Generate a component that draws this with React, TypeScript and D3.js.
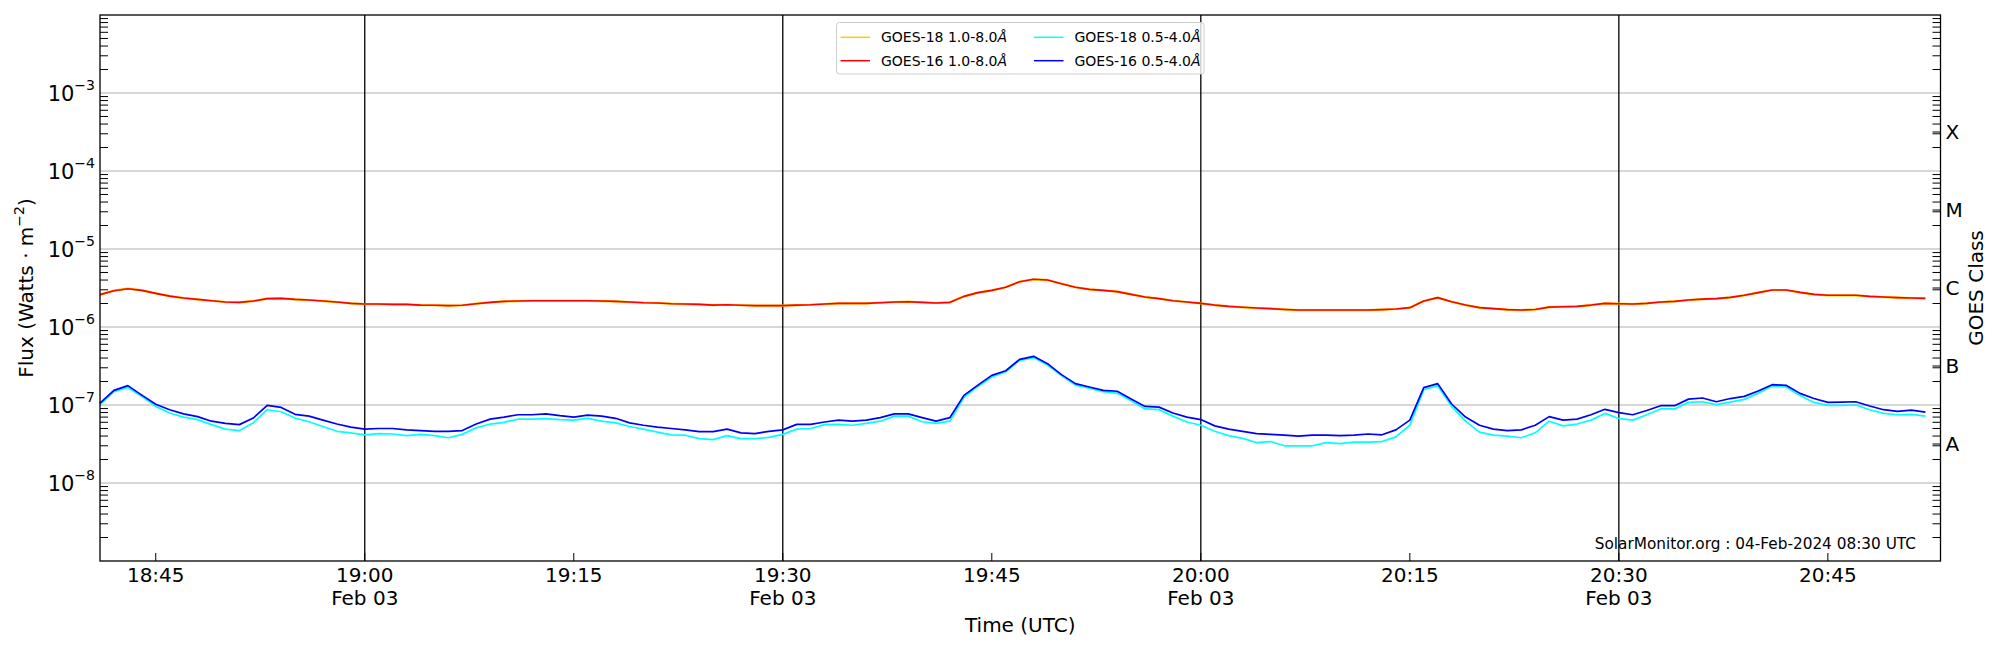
import * as d3 from "d3";

// GOES XRS, 1-minute averages, Feb 03 2024 18:41 - 20:52 UTC
const START = new Date(Date.UTC(2024, 1, 3, 18, 41, 0));
const END = new Date(Date.UTC(2024, 1, 3, 20, 53, 0));
const X_END = new Date(Date.UTC(2024, 1, 3, 20, 53, 5));
const times = d3.utcMinute.range(START, END);

// GOES-16 1.0-8.0 A (W m^-2)
const goes16Long = [
  2.6e-6, 2.92e-6, 3.1e-6, 2.95e-6, 2.7e-6, 2.49e-6, 2.35e-6, 2.26e-6, 2.17e-6, 2.09e-6,
  2.07e-6, 2.15e-6, 2.31e-6, 2.33e-6, 2.26e-6, 2.22e-6, 2.15e-6, 2.09e-6, 2.01e-6, 1.97e-6,
  1.97e-6, 1.95e-6, 1.95e-6, 1.91e-6, 1.9e-6, 1.88e-6, 1.9e-6, 1.99e-6, 2.07e-6, 2.13e-6,
  2.15e-6, 2.17e-6, 2.17e-6, 2.17e-6, 2.17e-6, 2.17e-6, 2.15e-6, 2.13e-6, 2.09e-6, 2.05e-6,
  2.03e-6, 1.99e-6, 1.97e-6, 1.95e-6, 1.91e-6, 1.93e-6, 1.9e-6, 1.88e-6, 1.88e-6, 1.88e-6,
  1.91e-6, 1.93e-6, 1.97e-6, 2.01e-6, 2.01e-6, 2.01e-6, 2.05e-6, 2.09e-6, 2.11e-6, 2.07e-6,
  2.03e-6, 2.07e-6, 2.47e-6, 2.76e-6, 2.95e-6, 3.23e-6, 3.81e-6, 4.09e-6, 4.01e-6, 3.59e-6,
  3.23e-6, 3.04e-6, 2.95e-6, 2.84e-6, 2.62e-6, 2.42e-6, 2.31e-6, 2.17e-6, 2.09e-6, 2.01e-6,
  1.91e-6, 1.84e-6, 1.79e-6, 1.75e-6, 1.72e-6, 1.68e-6, 1.65e-6, 1.65e-6, 1.65e-6, 1.65e-6,
  1.65e-6, 1.65e-6, 1.67e-6, 1.7e-6, 1.77e-6, 2.15e-6, 2.38e-6, 2.11e-6, 1.91e-6, 1.77e-6,
  1.72e-6, 1.67e-6, 1.65e-6, 1.68e-6, 1.8e-6, 1.82e-6, 1.84e-6, 1.91e-6, 2.01e-6, 1.99e-6,
  1.97e-6, 2.01e-6, 2.09e-6, 2.13e-6, 2.22e-6, 2.28e-6, 2.31e-6, 2.4e-6, 2.55e-6, 2.76e-6,
  2.98e-6, 2.98e-6, 2.78e-6, 2.62e-6, 2.55e-6, 2.55e-6, 2.55e-6, 2.47e-6, 2.42e-6, 2.38e-6,
  2.35e-6, 2.33e-6,
];

// GOES-18 1.0-8.0 A sits right under the GOES-16 curve
const goes18Long = goes16Long;

// GOES-16 0.5-4.0 A
const goes16Short = [
  1.06e-7, 1.54e-7, 1.77e-7, 1.34e-7, 1.02e-7, 8.7e-8, 7.7e-8, 7.1e-8, 6.2e-8, 5.8e-8,
  5.6e-8, 6.8e-8, 9.9e-8, 9.3e-8, 7.6e-8, 7.2e-8, 6.4e-8, 5.7e-8, 5.2e-8, 4.9e-8,
  5.0e-8, 5.0e-8, 4.8e-8, 4.7e-8, 4.6e-8, 4.6e-8, 4.7e-8, 5.7e-8, 6.6e-8, 7.0e-8,
  7.5e-8, 7.5e-8, 7.7e-8, 7.3e-8, 7.0e-8, 7.4e-8, 7.2e-8, 6.75e-8, 5.9e-8, 5.5e-8,
  5.2e-8, 5.0e-8, 4.8e-8, 4.55e-8, 4.55e-8, 4.9e-8, 4.4e-8, 4.3e-8, 4.6e-8, 4.8e-8,
  5.65e-8, 5.65e-8, 6.05e-8, 6.4e-8, 6.2e-8, 6.4e-8, 6.9e-8, 7.7e-8, 7.7e-8, 6.9e-8,
  6.2e-8, 6.9e-8, 1.33e-7, 1.8e-7, 2.4e-7, 2.75e-7, 3.85e-7, 4.21e-7, 3.39e-7, 2.45e-7,
  1.88e-7, 1.7e-7, 1.54e-7, 1.5e-7, 1.19e-7, 9.6e-8, 9.4e-8, 7.9e-8, 7.0e-8, 6.5e-8,
  5.4e-8, 4.9e-8, 4.6e-8, 4.3e-8, 4.2e-8, 4.1e-8, 4.0e-8, 4.1e-8, 4.1e-8, 4.05e-8,
  4.1e-8, 4.25e-8, 4.15e-8, 4.8e-8, 6.4e-8, 1.67e-7, 1.88e-7, 1.03e-7, 7.0e-8, 5.5e-8,
  4.9e-8, 4.7e-8, 4.8e-8, 5.5e-8, 7.1e-8, 6.4e-8, 6.6e-8, 7.5e-8, 8.8e-8, 8.0e-8,
  7.5e-8, 8.5e-8, 9.8e-8, 9.8e-8, 1.19e-7, 1.23e-7, 1.1e-7, 1.21e-7, 1.29e-7, 1.51e-7,
  1.82e-7, 1.79e-7, 1.41e-7, 1.21e-7, 1.08e-7, 1.09e-7, 1.1e-7, 9.7e-8, 8.7e-8, 8.3e-8,
  8.6e-8, 8.1e-8,
];

// GOES-18 0.5-4.0 A
const goes18Short = [
  1.01e-7, 1.48e-7, 1.68e-7, 1.29e-7, 9.6e-8, 7.9e-8, 7.0e-8, 6.5e-8, 5.6e-8, 4.9e-8,
  4.7e-8, 5.9e-8, 8.7e-8, 8.2e-8, 6.8e-8, 6.1e-8, 5.3e-8, 4.6e-8, 4.4e-8, 4.15e-8,
  4.3e-8, 4.25e-8, 4.05e-8, 4.2e-8, 4.05e-8, 3.8e-8, 4.2e-8, 5.1e-8, 5.7e-8, 6.0e-8,
  6.6e-8, 6.6e-8, 6.7e-8, 6.5e-8, 6.4e-8, 6.75e-8, 6.2e-8, 5.9e-8, 5.3e-8, 4.9e-8,
  4.5e-8, 4.15e-8, 4.1e-8, 3.7e-8, 3.6e-8, 4.05e-8, 3.7e-8, 3.7e-8, 3.85e-8, 4.2e-8,
  4.9e-8, 5.0e-8, 5.6e-8, 5.65e-8, 5.5e-8, 5.8e-8, 6.2e-8, 7.2e-8, 7.2e-8, 6.1e-8,
  5.8e-8, 6.2e-8, 1.25e-7, 1.73e-7, 2.28e-7, 2.67e-7, 3.74e-7, 4.05e-7, 3.26e-7, 2.38e-7,
  1.8e-7, 1.64e-7, 1.48e-7, 1.42e-7, 1.13e-7, 8.9e-8, 8.7e-8, 7.2e-8, 6.05e-8, 5.5e-8,
  4.6e-8, 4.05e-8, 3.74e-8, 3.3e-8, 3.4e-8, 3.0e-8, 3.0e-8, 3.0e-8, 3.3e-8, 3.2e-8,
  3.35e-8, 3.35e-8, 3.4e-8, 3.9e-8, 5.5e-8, 1.57e-7, 1.77e-7, 9.6e-8, 6.2e-8, 4.5e-8,
  4.1e-8, 4.0e-8, 3.8e-8, 4.4e-8, 6.2e-8, 5.4e-8, 5.7e-8, 6.4e-8, 7.8e-8, 6.7e-8,
  6.4e-8, 7.5e-8, 8.9e-8, 8.9e-8, 1.08e-7, 1.1e-7, 1.01e-7, 1.09e-7, 1.18e-7, 1.42e-7,
  1.75e-7, 1.7e-7, 1.32e-7, 1.08e-7, 9.9e-8, 9.9e-8, 1.0e-7, 8.7e-8, 7.8e-8, 7.5e-8,
  7.6e-8, 7.2e-8,
];

const seriesNames = ["GOES-18 1.0-8.0", "GOES-16 1.0-8.0", "GOES-18 0.5-4.0", "GOES-16 0.5-4.0"];
const seriesColors = ["#ffcc00", "#ff0000", "#00ffff", "#0000ff"];
const seriesValues = [goes18Long, goes16Long, goes18Short, goes16Short];
const seriesWidths = [2.2, 1.6, 1.7, 1.7];

const gridPowers = [-8, -7, -6, -5, -4, -3];
const classLabels = ["A", "B", "C", "M", "X"];
const classCenters = [3.162e-8, 3.162e-7, 3.162e-6, 3.162e-5, 3.162e-4];

const FONT = "'DejaVu Sans', sans-serif";
const W = 2000;
const H = 650;
const left = 100;
const right = 1940.5;
const top = 15;
const bottom = 561;
const TICK = 8;

export default function App() {
  const x = d3.scaleUtc().domain([START, X_END]).range([left, right]);
  const y = d3.scaleLog().domain([1e-9, 1e-2]).range([bottom, top]);

  const line = d3
    .line<number>()
    .x((_, i) => x(times[i]))
    .y((d) => y(d));

  const minorTicks = y.ticks().filter((v) => {
    const l = Math.log10(v);
    return Math.abs(l - Math.round(l)) > 1e-6;
  });

  const xTicks = x.ticks(d3.utcMinute.every(15));
  const fmt = d3.utcFormat("%H:%M");
  const fmtDay = d3.utcFormat("%b %d");
  const halfHours = xTicks.filter((t) => t.getUTCMinutes() % 30 === 0);

  return (
    <svg
      width={W}
      height={H}
      style={{ position: "absolute", left: 0, top: 0, background: "#fff" }}
      fontFamily={FONT}
    >
      {/* horizontal grid */}
      {gridPowers.map((p) => (
        <line
          key={p}
          x1={left}
          x2={right}
          y1={y(Math.pow(10, p))}
          y2={y(Math.pow(10, p))}
          stroke="#b0b0b0"
          strokeWidth={1.1}
        />
      ))}

      {/* half-hour markers */}
      {halfHours.map((t) => (
        <line
          key={+t}
          x1={x(t)}
          x2={x(t)}
          y1={top}
          y2={bottom}
          stroke="#000"
          strokeWidth={1.3}
        />
      ))}

      {/* data */}
      {seriesValues.map((vals, i) => (
        <path
          key={seriesNames[i]}
          d={line(vals) ?? ""}
          fill="none"
          stroke={seriesColors[i]}
          strokeWidth={seriesWidths[i]}
          strokeLinejoin="round"
        />
      ))}

      {/* minor ticks, both sides, pointing in */}
      {minorTicks.map((v) => (
        <g key={v} stroke="#000" strokeWidth={1}>
          <line x1={left} x2={left + TICK} y1={y(v)} y2={y(v)} />
          <line x1={right - TICK} x2={right} y1={y(v)} y2={y(v)} />
        </g>
      ))}
      {classCenters.map((v) => (
        <line key={v} x1={right - TICK} x2={right} y1={y(v)} y2={y(v)} stroke="#000" />
      ))}

      {/* x ticks */}
      {xTicks.map((t) => (
        <g key={+t}>
          <line x1={x(t)} x2={x(t)} y1={bottom} y2={bottom - TICK} stroke="#000" />
          <text x={x(t)} y={582} textAnchor="middle" fontSize={20}>
            {fmt(t)}
          </text>
          {t.getUTCMinutes() % 30 === 0 && (
            <text x={x(t)} y={605} textAnchor="middle" fontSize={20}>
              {fmtDay(t)}
            </text>
          )}
        </g>
      ))}

      {/* y tick labels */}
      {gridPowers.map((p) => (
        <text key={p} x={95} y={y(Math.pow(10, p)) + 8} textAnchor="end" fontSize={21}>
          10
          <tspan fontSize={14} dy={-11}>
            {"\u2212" + Math.abs(p)}
          </tspan>
        </text>
      ))}

      {/* GOES class labels */}
      {classLabels.map((c, i) => (
        <text key={c} x={right + 5} y={y(classCenters[i]) + 7} fontSize={20}>
          {c}
        </text>
      ))}

      {/* frame */}
      <rect
        x={left}
        y={top}
        width={right - left}
        height={bottom - top}
        fill="none"
        stroke="#000"
        strokeWidth={1.3}
      />

      {/* legend, filled column by column */}
      <g>
        <rect
          x={836.5}
          y={22.5}
          width={367.5}
          height={51.5}
          rx={3}
          fill="#fff"
          fillOpacity={0.8}
          stroke="#cccccc"
        />
        {[0, 1, 2, 3].map((si, k) => {
          const col = Math.floor(k / 2);
          const row = k % 2;
          const lx = 840.5 + col * 193.5;
          const ly = 37.3 + row * 23.4;
          return (
            <g key={si}>
              <line
                x1={lx}
                x2={lx + 29.5}
                y1={ly}
                y2={ly}
                stroke={seriesColors[si]}
                strokeWidth={1.5}
              />
              <text x={lx + 40.5} y={ly + 5} fontSize={14}>
                {seriesNames[si]}
                <tspan fontStyle="italic">Å</tspan>
              </text>
            </g>
          );
        })}
      </g>

      {/* watermark */}
      <text x={1916} y={549} textAnchor="end" fontSize={15.3}>
        SolarMonitor.org : 04-Feb-2024 08:30 UTC
      </text>

      {/* axis titles */}
      <text x={(left + right) / 2} y={632} textAnchor="middle" fontSize={20}>
        Time (UTC)
      </text>
      <text
        transform={`translate(33,${(top + bottom) / 2}) rotate(-90)`}
        textAnchor="middle"
        fontSize={20}
      >
        Flux (Watts · m
        <tspan fontSize={14} dy={-9}>
          −2
        </tspan>
        <tspan dy={9}>)</tspan>
      </text>
      <text
        transform={`translate(1983,${(top + bottom) / 2}) rotate(-90)`}
        textAnchor="middle"
        fontSize={20}
      >
        GOES Class
      </text>
    </svg>
  );
}
